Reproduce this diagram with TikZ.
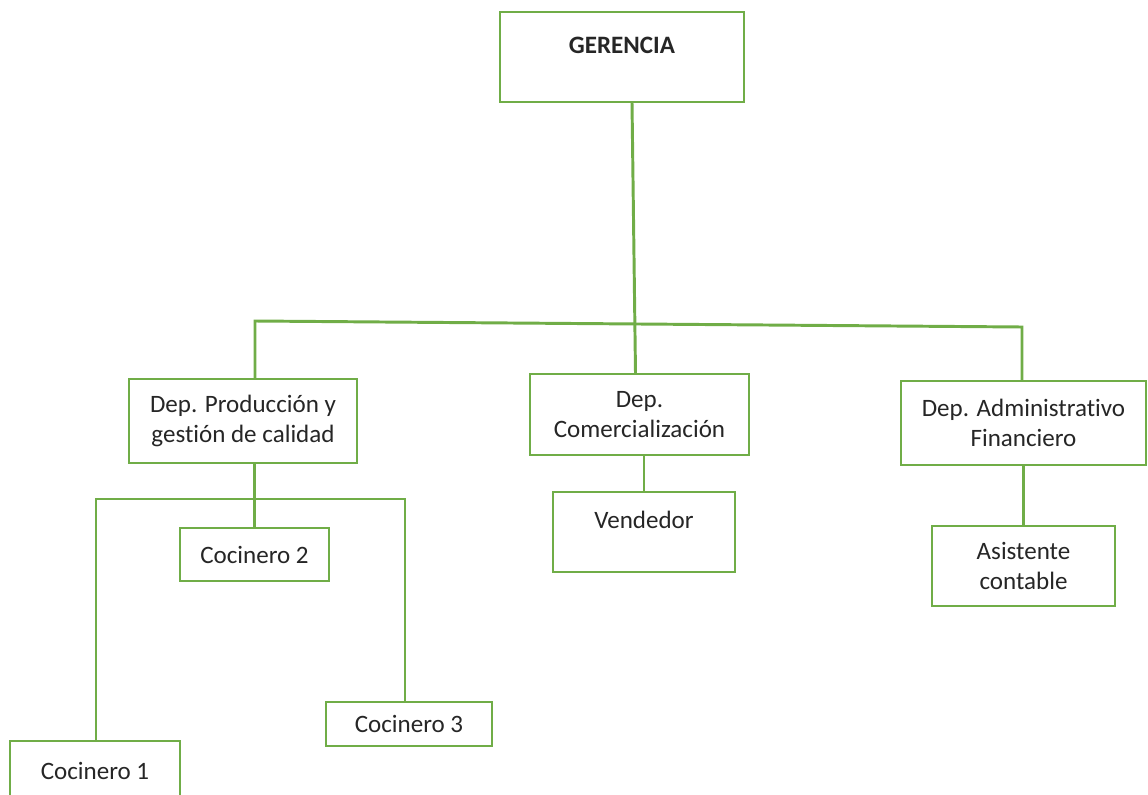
\documentclass[tikz,border=0pt]{standalone}
\usepackage{fontspec}
\setmainfont[Ligatures=NoCommon]{Carlito}
\usetikzlibrary{calc}
\definecolor{orggreen}{HTML}{70AD47}
\tikzstyle{box} = [rectangle, draw=orggreen, line width=1.2pt, fill=white, text=black!85, align=center, font=\fontsize{17.8}{21.5}\selectfont, inner sep=0pt]
\tikzstyle{toptext} = [text depth=0.6cm]
\tikzstyle{conn} = [draw=orggreen, line width=2.1pt]

\begin{document}
\begin{tikzpicture}[x=0.025cm, y=-0.025cm]
    \useasboundingbox (0,0) rectangle (1148,794);
    \clip (0,0) rectangle (1148,794);

    \node (ger)  [box, toptext, minimum width=6.1cm, minimum height=2.25cm] at (622,57) {\bfseries GERENCIA};

    \node (prod) [box, minimum width=5.7cm, minimum height=2.1cm] at (243,421) {Dep. Producción y\\gestión de calidad};
    \node (com)  [box, minimum width=5.475cm, minimum height=2.025cm] at (639.5,414.5) {Dep.\\Comercialización};
    \node (adm)  [box, minimum width=6.125cm, minimum height=2.1cm] at (1023.5,423) {Dep. Administrativo\\Financiero};

    \node (coc2) [box, minimum width=3.725cm, minimum height=1.325cm] at (254.5,554.5) {Cocinero 2};
    \node (coc3) [box, minimum width=4.15cm, minimum height=1.1cm] at (409,724) {Cocinero 3};
    \node (coc1) [box, minimum width=4.25cm, minimum height=1.475cm] at (95,770.5) {Cocinero 1};

    \node (vend) [box, toptext, minimum width=4.55cm, minimum height=2cm] at (644,532) {Vendedor};
    \node (asis) [box, minimum width=4.575cm, minimum height=2cm] at (1023.5,566) {Asistente\\contable};

    \coordinate (busL) at (255,321);
    \coordinate (busR) at (1022,327);
    \coordinate (subL) at (96,499);
    \coordinate (subR) at (405,499);

\draw [conn] ([xshift=0.25cm]ger.south) -- ([xshift=-0.1cm]com.north);

\draw [conn] (busL |- prod.north) -- (busL) -- (busR) -- (busR |- adm.north);

\draw [conn] (coc2.north |- prod.south) -- (coc2.north);
\draw [conn] (subL |- coc1.north) -- (subL) -- (subR) -- (subR |- coc3.north);

\draw [conn] (vend.north |- com.south) -- (vend.north);
\draw [conn] (adm.south) -- (asis.north);

\end{tikzpicture}
\end{document}
